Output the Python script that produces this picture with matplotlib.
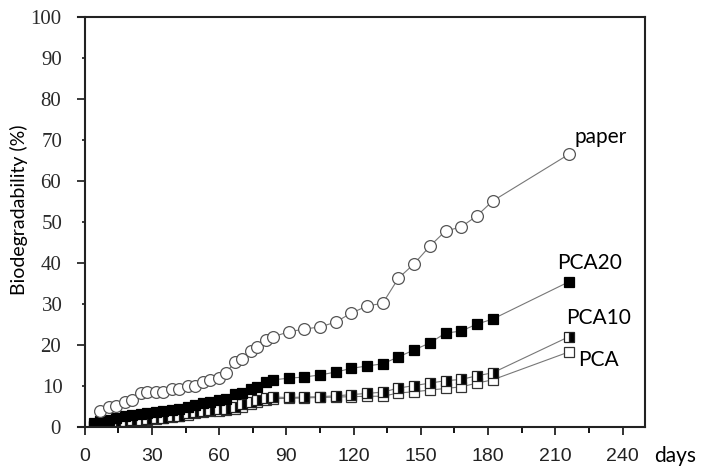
import matplotlib
matplotlib.use("Agg")
import matplotlib.pyplot as plt

# sampling days (paper starts a few days later than the polymer samples)
days_paper = [7, 11, 14, 18, 21, 25, 28, 32, 35, 39, 42, 46, 49, 53, 56, 60,
              63, 67, 70, 74, 77, 81, 84, 91, 98, 105, 112, 119, 126, 133,
              140, 147, 154, 161, 168, 175, 182, 216]
paper = [4.0, 4.9, 5.1, 6.1, 6.6, 8.3, 8.5, 8.5, 8.5, 9.3, 9.3, 10.0, 10.0,
         11.0, 11.5, 12.0, 13.2, 15.8, 16.6, 18.5, 19.5, 21.2, 22.0, 23.2,
         23.9, 24.4, 25.6, 27.8, 29.5, 30.2, 36.3, 39.8, 44.1, 47.8, 48.8,
         51.5, 55.1, 66.5]

days_pca = [4, 7, 11, 14, 18, 21, 25, 28, 32, 35, 39, 42, 46, 49, 53, 56, 60,
            63, 67, 70, 74, 77, 81, 84, 91, 98, 105, 112, 119, 126, 133, 140,
            147, 154, 161, 168, 175, 182, 216]
pca20 = [1.0, 1.4, 1.8, 2.2, 2.6, 2.9, 3.1, 3.3, 3.6, 3.9, 4.2, 4.5, 5.0, 5.4,
         5.8, 6.1, 6.5, 6.9, 8.0, 8.4, 9.3, 9.8, 11.0, 11.5, 11.9, 12.2, 12.7,
         13.4, 14.3, 14.9, 15.4, 17.1, 18.8, 20.5, 22.9, 23.4, 25.1, 26.3, 35.4]
pca10 = [0.3, 0.5, 0.8, 1.0, 1.5, 1.7, 1.8, 1.9, 2.1, 2.3, 2.6, 2.8, 3.3, 3.6,
         3.9, 4.1, 4.3, 4.5, 4.9, 5.6, 6.1, 6.6, 7.1, 7.3, 7.2, 7.3, 7.4, 7.6,
         7.9, 8.2, 8.5, 9.5, 10.1, 10.7, 11.3, 11.6, 12.5, 13.2, 22.0]
pca = [0.2, 0.4, 0.6, 0.8, 1.2, 1.4, 1.6, 1.7, 1.9, 2.1, 2.4, 2.6, 3.0, 3.3,
       3.6, 3.8, 4.0, 4.2, 4.5, 5.0, 5.6, 6.1, 6.6, 6.9, 7.0, 7.1, 7.2, 7.3,
       7.4, 7.5, 7.5, 8.3, 8.6, 9.0, 9.4, 9.8, 10.7, 11.5, 18.3]

fig = plt.figure(figsize=(7.06, 4.71), dpi=100)
ax = fig.add_axes([0.1105, 0.0934, 0.803, 0.8705])

lc = "#777777"
ax.plot(days_pca, pca, color=lc, lw=0.8, marker="s", ms=7.5,
        mfc="white", mec="#333333", mew=0.9)
ax.plot(days_pca, pca10, color=lc, lw=0.8, marker="s", ms=7.5,
        fillstyle="right", mfc="black", markerfacecoloralt="white",
        mec="#222222", mew=0.9)
ax.plot(days_pca, pca20, color=lc, lw=0.8, marker="s", ms=7.5,
        mfc="black", mec="black", mew=0.9)
ax.plot(days_paper, paper, color=lc, lw=0.8, marker="o", ms=8.5,
        mfc="white", mec="#555555", mew=0.9)

# curve labels
lab = dict(fontsize=15, family="Lato", va="center", ha="left", color="black")
ax.text(218.7, 70.7, "paper", **lab)
ax.text(210.7, 40.1, "PCA20", **lab)
ax.text(214.7, 26.6, "PCA10", **lab)
ax.text(220.0, 16.3, "PCA", **lab)

ax.set_xlim(-3, 250)
ax.set_ylim(0, 100)
ax.spines["left"].set_position(("data", 0))
for s in ax.spines.values():
    s.set_linewidth(1.5)
    s.set_color("#222222")

ax.set_xticks(range(0, 241, 30))
ax.set_xticks(range(15, 241, 30), minor=True)
ax.set_yticks(range(0, 101, 20))
ax.set_yticks(range(10, 100, 20), labels=[str(v) for v in range(10, 100, 20)],
              minor=True)
ax.tick_params(axis="x", which="major", length=6, width=1.3, pad=9,
               labelsize=14, colors="#222222")
ax.tick_params(axis="x", which="minor", length=4, width=1.3)
ax.tick_params(axis="y", which="major", length=6, width=1.3, pad=11,
               labelsize=15, colors="#2a2a2a")
ax.tick_params(axis="y", which="minor", length=2.5, width=1.3, pad=13.5,
               labelsize=15, colors="#2a2a2a")
for t in ax.get_xticklabels():
    t.set_fontfamily("Liberation Sans")
for t in ax.get_yticklabels() + ax.get_yticklabels(minor=True):
    t.set_fontfamily("Liberation Serif")

ax.set_ylabel("Biodegradability (%)", fontsize=14, family="Lato")
ax.yaxis.set_label_coords(-0.088, 0.53)
ax.text(1.016, -0.07, "days", transform=ax.transAxes, fontsize=15,
        family="Lato", va="center", ha="left")

fig.savefig("out.png", dpi=100)
